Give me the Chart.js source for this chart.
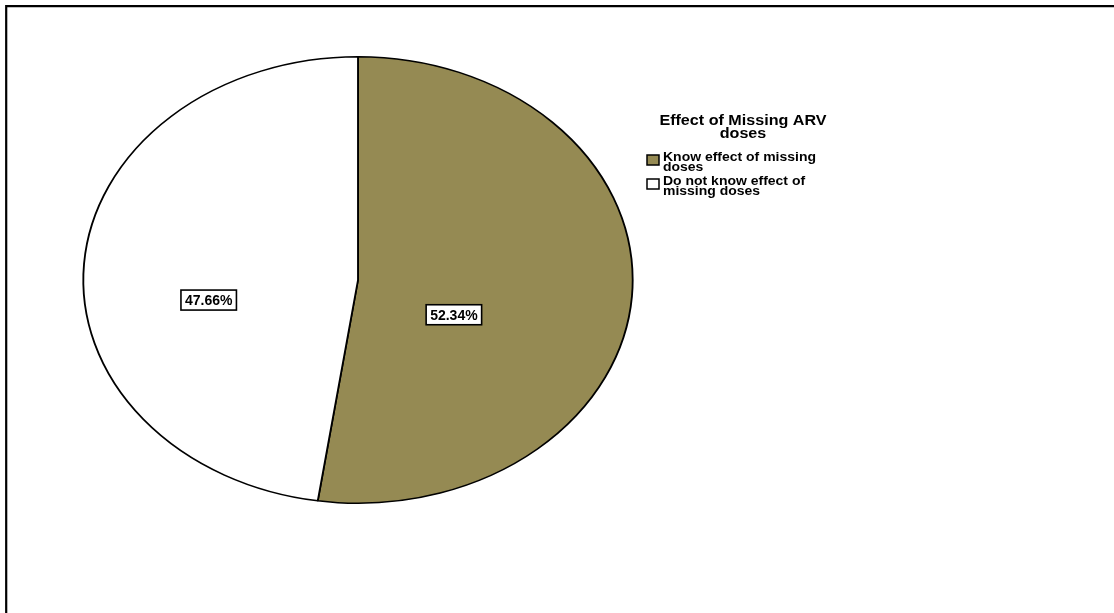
<!DOCTYPE html>
<html>
<head>
<meta charset="utf-8">
<script src="https://cdn.jsdelivr.net/npm/chart.js@4"></script>
<style>
  html, body { margin: 0; padding: 0; background: #fff; }
  #wrap { width: 1114px; height: 613px; }
</style>
</head>
<body>
<div id="wrap"><canvas id="chartCanvas" width="1114" height="613"></canvas></div>
<script>
// data
const categories = ['Know effect of missing doses', 'Do not know effect of missing doses'];
const percentages = [52.34, 47.66];
const legendTitle = ['Effect of Missing ARV', 'doses'];
const legendLines = [['Know effect of missing', 'doses'], ['Do not know effect of', 'missing doses']];

// styling
const sliceColors = ['#958a53', '#ffffff'];
const stretchX = 275 / 223.5;      // the pie is drawn as an ellipse
const labelRadius = [0.35, 0.545]; // where the % boxes sit along each slice
const labelDrop = 29;
const textStretch = 1.075;         // legend text is a little wide in the original
const fontFamily = '"Liberation Sans", Arial, sans-serif';

function wideText(ctx, text, x, y) {
  ctx.save();
  ctx.translate(x, y);
  ctx.scale(textStretch, 1);
  ctx.fillText(text, 0, 0);
  ctx.restore();
}

const ellipsePlugin = {
  id: 'ellipse',
  beforeDatasetsDraw(chart) {
    const arc = chart.getDatasetMeta(0).data[0];
    const ctx = chart.ctx;
    ctx.save();
    ctx.translate(arc.x, arc.y);
    ctx.scale(stretchX, 1);
    ctx.translate(-arc.x, -arc.y);
  },
  afterDatasetsDraw(chart) {
    const ctx = chart.ctx;
    ctx.restore();

    // percentage labels in boxes
    ctx.save();
    ctx.font = 'bold 14px ' + fontFamily;
    ctx.textAlign = 'center';
    ctx.textBaseline = 'middle';
    chart.getDatasetMeta(0).data.forEach((arc, i) => {
      const p = arc.getProps(['x', 'y', 'startAngle', 'endAngle', 'outerRadius'], true);
      const mid = (p.startAngle + p.endAngle) / 2;
      const lx = p.x + Math.cos(mid) * p.outerRadius * labelRadius[i] * stretchX;
      const ly = p.y + Math.sin(mid) * p.outerRadius * labelRadius[i] + labelDrop;
      const text = percentages[i].toFixed(2) + '%';
      const w = ctx.measureText(text).width + 8;
      ctx.fillStyle = '#fff';
      ctx.fillRect(lx - w / 2, ly - 10, w, 20);
      ctx.strokeStyle = '#000';
      ctx.lineWidth = 1.6;
      ctx.strokeRect(lx - w / 2, ly - 10, w, 20);
      ctx.fillStyle = '#000';
      ctx.fillText(text, lx, ly + 1);
    });
    ctx.restore();
  },
  afterDraw(chart) {
    const ctx = chart.ctx;
    ctx.save();
    // frame (only left and top edges show)
    ctx.strokeStyle = '#000';
    ctx.lineWidth = 2.2;
    ctx.beginPath();
    ctx.moveTo(6.2, 613);
    ctx.lineTo(6.2, 6.2);
    ctx.lineTo(1114, 6.2);
    ctx.stroke();

    // legend
    ctx.fillStyle = '#000';
    ctx.textAlign = 'center';
    ctx.textBaseline = 'middle';
    ctx.font = 'bold 15px ' + fontFamily;
    legendTitle.forEach((t, k) => wideText(ctx, t, 743, 121 + k * 12.5));

    ctx.textAlign = 'left';
    ctx.font = 'bold 13px ' + fontFamily;
    const itemTop = [156, 180];
    categories.forEach((c, i) => {
      ctx.fillStyle = sliceColors[i];
      ctx.fillRect(647, itemTop[i] - 1, 12, 10);
      ctx.strokeStyle = '#000';
      ctx.lineWidth = 1.5;
      ctx.strokeRect(647, itemTop[i] - 1, 12, 10);
      ctx.fillStyle = '#000';
      legendLines[i].forEach((t, k) => wideText(ctx, t, 663, itemTop[i] + 1 + k * 10.5));
    });
    ctx.restore();
  }
};

new Chart(document.getElementById('chartCanvas'), {
  type: 'pie',
  data: {
    labels: categories,
    datasets: [{
      data: percentages,
      backgroundColor: sliceColors,
      borderColor: '#000',
      borderWidth: 1.5,
      hoverOffset: 0,
      clip: false
    }]
  },
  options: {
    responsive: false,
    animation: false,
    events: [],
    layout: { padding: { top: 56, bottom: 109, left: 134, right: 532 } },
    plugins: {
      legend: { display: false },
      tooltip: { enabled: false }
    }
  },
  plugins: [ellipsePlugin]
});
</script>
</body>
</html>
